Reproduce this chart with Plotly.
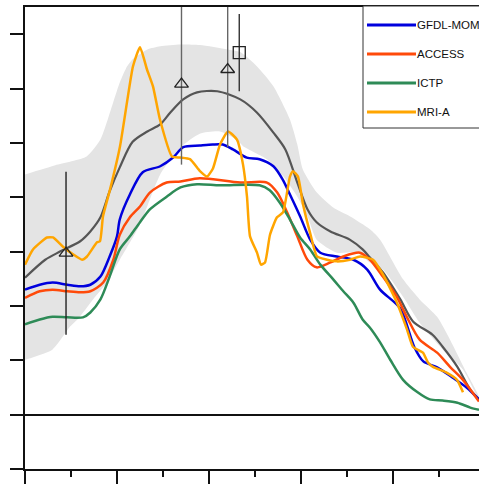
import plotly.graph_objects as go

# ---- data (x in axis units, y in axis units) ----
mme_x = [0, 2.2, 3.8, 6.0, 7.1, 8.2, 9.2, 10.3, 11.7, 13.3, 14.7, 15.8, 17.2, 18.7, 20.9, 23.4, 25.2, 27.0, 28.3, 29.6, 30.7, 31.7, 33.2, 35.3, 36.7, 37.5, 38.9, 40.8, 42.2, 44.3, 45.4, 47.0, 48.4, 49.35]
mme_y = [2.52, 2.85, 3.00, 3.19, 3.37, 3.63, 4.11, 4.55, 5.02, 5.21, 5.34, 5.56, 5.80, 5.93, 5.95, 5.80, 5.56, 5.19, 4.88, 4.27, 3.78, 3.54, 3.37, 3.22, 3.04, 2.89, 2.62, 2.12, 1.71, 1.47, 1.25, 0.88, 0.46, 0.28]

band_up_x = [0, 3.3, 6.7, 8.2, 9.6, 10.3, 11.1, 11.7, 13.3, 14.7, 16.9, 19.0, 22.0, 23.4, 25.2, 27.0, 28.8, 29.6, 30.2, 31.7, 33.5, 35.3, 37.5, 38.6, 41.1, 42.9, 44.8, 46.2, 48.0, 49.35]
band_up_y = [4.42, 4.59, 4.75, 5.06, 5.75, 6.11, 6.41, 6.54, 6.72, 6.78, 6.81, 6.80, 6.72, 6.67, 6.41, 6.04, 5.43, 4.97, 4.51, 4.09, 3.81, 3.65, 3.41, 3.22, 2.49, 2.12, 1.80, 1.38, 0.77, 0.33]
band_lo_x = [0, 3.0, 4.9, 5.7, 7.4, 8.9, 10.3, 12.5, 14.7, 16.9, 19.0, 21.2, 23.0, 23.7, 26.3, 28.1, 29.6, 30.7, 31.7, 33.9, 36.1, 37.5, 38.9, 41.1, 42.9, 45.4, 47.6, 49.35]
band_lo_y = [1.01, 1.20, 1.62, 1.75, 2.12, 2.43, 2.85, 3.50, 4.42, 4.92, 5.17, 5.21, 5.06, 4.94, 4.70, 4.38, 4.01, 3.65, 3.22, 2.98, 2.98, 2.80, 2.67, 2.17, 1.69, 1.20, 0.83, 0.28]

gfdl_x = [0, 1.6, 3.0, 4.6, 6.0, 7.1, 8.2, 9.2, 10.0, 10.3, 11.4, 12.8, 14.7, 16.1, 17.2, 19.0, 20.4, 21.5, 22.6, 24.1, 25.5, 27.0, 28.0, 28.8, 29.9, 31.0, 32.1, 33.9, 35.7, 37.2, 38.6, 40.8, 42.3, 43.3, 44.8, 46.5, 48.0, 49.35]
gfdl_y = [2.30, 2.39, 2.43, 2.39, 2.36, 2.39, 2.54, 2.91, 3.28, 3.59, 4.05, 4.46, 4.57, 4.73, 4.92, 4.95, 4.97, 4.97, 4.88, 4.73, 4.70, 4.57, 4.33, 4.05, 3.65, 3.22, 2.98, 2.91, 2.85, 2.67, 2.30, 1.95, 1.25, 0.98, 0.87, 0.68, 0.50, 0.28]

access_x = [0, 1.6, 3.0, 4.6, 6.0, 7.1, 8.5, 9.6, 10.3, 11.4, 12.5, 13.6, 15.4, 16.9, 19.0, 23.4, 26.3, 27.4, 28.5, 29.6, 30.7, 31.7, 33.2, 34.6, 36.4, 37.5, 38.9, 40.4, 41.5, 42.9, 44.8, 46.2, 47.6, 49.35]
access_y = [2.15, 2.27, 2.30, 2.27, 2.25, 2.27, 2.43, 2.85, 3.31, 3.63, 3.83, 4.09, 4.27, 4.29, 4.35, 4.27, 4.27, 4.09, 3.72, 3.28, 2.85, 2.71, 2.80, 2.91, 2.98, 2.85, 2.54, 2.17, 1.80, 1.38, 1.14, 0.88, 0.64, 0.24]

ictp_x = [0, 1.6, 3.0, 4.6, 6.3, 7.1, 8.2, 9.2, 10.3, 11.4, 12.5, 13.6, 15.4, 16.9, 18.7, 21.2, 25.5, 26.6, 27.7, 28.8, 29.9, 31.0, 32.1, 33.5, 34.6, 35.7, 36.7, 37.5, 38.6, 39.7, 41.1, 42.6, 44.0, 45.4, 47.0, 48.4, 49.35]
ictp_y = [1.66, 1.75, 1.80, 1.79, 1.79, 1.88, 2.12, 2.54, 3.04, 3.28, 3.54, 3.78, 4.01, 4.18, 4.24, 4.22, 4.22, 4.13, 3.90, 3.59, 3.26, 3.04, 2.76, 2.49, 2.27, 2.06, 1.75, 1.60, 1.33, 1.01, 0.64, 0.42, 0.28, 0.26, 0.22, 0.13, 0.09]

mria_x = [0, 0.87, 2.39, 3.04, 4.13, 5.22, 6.2, 6.74, 7.83, 8.15, 8.48, 9.24, 10.33, 11.09, 11.74, 12.5, 13.26, 13.91, 14.67, 15.98, 16.85, 17.93, 19.02, 19.78, 20.43, 21.2, 22.07, 23.04, 23.7, 24.13, 24.46, 25.22, 25.65, 26.09, 26.63, 27.39, 28.04, 28.8, 29.13, 29.67, 30.22, 30.98, 31.74, 32.83, 33.91, 35.33, 36.41, 37.83, 38.91, 40.43, 41.52, 42.17, 43.26, 43.8, 44.35, 45.87, 46.96, 47.61]
mria_y = [2.76, 3.04, 3.26, 3.26, 3.09, 2.95, 2.85, 2.91, 3.17, 3.19, 3.65, 4.14, 4.94, 5.75, 6.41, 6.76, 6.35, 6.04, 5.43, 4.75, 4.73, 4.70, 4.48, 4.38, 4.53, 4.97, 5.21, 5.06, 4.60, 4.01, 3.28, 2.98, 2.76, 2.80, 3.31, 3.63, 3.72, 4.38, 4.48, 4.38, 3.87, 3.35, 2.91, 2.85, 2.82, 2.85, 2.91, 2.85, 2.58, 2.06, 1.57, 1.25, 1.14, 0.96, 0.88, 0.77, 0.64, 0.41]

obs_x = [4.46, 17.01, 22.03, 23.29]
obs_y = [2.97, 6.08, 6.35, 6.66]
obs_err = [1.50, 1.48, 1.43, 0.71]
obs_symbol = ["triangle-up-open", "triangle-up-open", "triangle-up-open", "square-open"]
obs_color = ["#222222", "#666666", "#666666", "#333333"]

legend_names = ["GFDL-MOM", "ACCESS", "ICTP", "MRI-A"]
legend_colors = ["#0000dd", "#ff4a0a", "#2e8b57", "#ffa500"]

fig = go.Figure()

# shaded spread band
fig.add_trace(go.Scatter(
    x=band_up_x + band_lo_x[::-1], y=band_up_y + band_lo_y[::-1],
    fill="toself", fillcolor="#e4e4e4", line=dict(width=0, shape="spline", smoothing=0.6),
    mode="lines", hoverinfo="skip", showlegend=False))

fig.add_trace(go.Scatter(x=mme_x, y=mme_y, mode="lines",
                         line=dict(color="#555555", width=2.2, shape="spline", smoothing=0.8),
                         showlegend=False))

series = [(gfdl_x, gfdl_y), (access_x, access_y), (ictp_x, ictp_y)]
for (sx, sy), c in zip(series, legend_colors[:3]):
    fig.add_trace(go.Scatter(x=sx, y=sy, mode="lines",
                             line=dict(color=c, width=2.5, shape="spline", smoothing=0.8),
                             showlegend=False))
fig.add_trace(go.Scatter(x=mria_x, y=mria_y, mode="lines",
                         line=dict(color=legend_colors[3], width=2.5, shape="spline", smoothing=0.5),
                         showlegend=False))

for i in range(len(obs_x)):
    fig.add_trace(go.Scatter(
        x=[obs_x[i]], y=[obs_y[i]], mode="markers",
        marker=dict(symbol=obs_symbol[i], size=12, color="#222222", line=dict(width=1.3, color="#222222")),
        error_y=dict(type="data", array=[obs_err[i]], symmetric=True, width=0,
                     thickness=1.4, color=obs_color[i]),
        showlegend=False))

# legend box drawn manually (extends past the right edge like the reference)
px_l, px_r, py_t, py_b = 25, 479, 7, 469
def fx(px):
    return (px - px_l) / (px_r - px_l)
def fy(py):
    return (py_b - py) / (py_b - py_t)

shapes = [dict(type="rect", xref="paper", yref="paper", x0=fx(363), x1=fx(540), y0=fy(128), y1=fy(6),
               line=dict(color="#333333", width=1), fillcolor="white", layer="above")]
annotations = []
for k, (name, col) in enumerate(zip(legend_names, legend_colors)):
    yy = fy(25 + 29 * k)
    shapes.append(dict(type="line", xref="paper", yref="paper", x0=fx(367), x1=fx(416), y0=yy, y1=yy,
                       line=dict(color=col, width=3), layer="above"))
    annotations.append(dict(xref="paper", yref="paper", x=fx(415), y=yy, text=name, showarrow=False,
                            xanchor="left", yanchor="middle",
                            font=dict(family="Liberation Sans, Arial", size=11.5, color="#111111")))

fig.update_layout(
    width=479, height=484,
    margin=dict(l=25, r=0, t=7, b=15),
    paper_bgcolor="white", plot_bgcolor="white",
    shapes=shapes, annotations=annotations,
    showlegend=False,
    xaxis=dict(range=[0, 49.35], showline=True, linecolor="#111111", linewidth=2, mirror=True,
               ticks="outside", tickvals=[0, 10, 20, 30, 40], ticklen=13, tickwidth=2, tickcolor="#111111",
               minor=dict(tickvals=[5, 15, 25, 35, 45], ticks="outside", ticklen=6, tickwidth=1.5, tickcolor="#111111"),
               showticklabels=False, showgrid=False, zeroline=False),
    yaxis=dict(range=[-1, 7.5], showline=True, linecolor="#111111", linewidth=2, mirror=False,
               ticks="outside", tickvals=[-1, 0, 1, 2, 3, 4, 5, 6, 7], ticklen=13, tickwidth=2, tickcolor="#111111",
               showticklabels=False, showgrid=False, zeroline=True, zerolinecolor="#111111", zerolinewidth=2),
)

fig.write_html("out.html", config={"displayModeBar": False},
               post_script="document.body.style.margin='0px';document.body.style.overflow='hidden';")
